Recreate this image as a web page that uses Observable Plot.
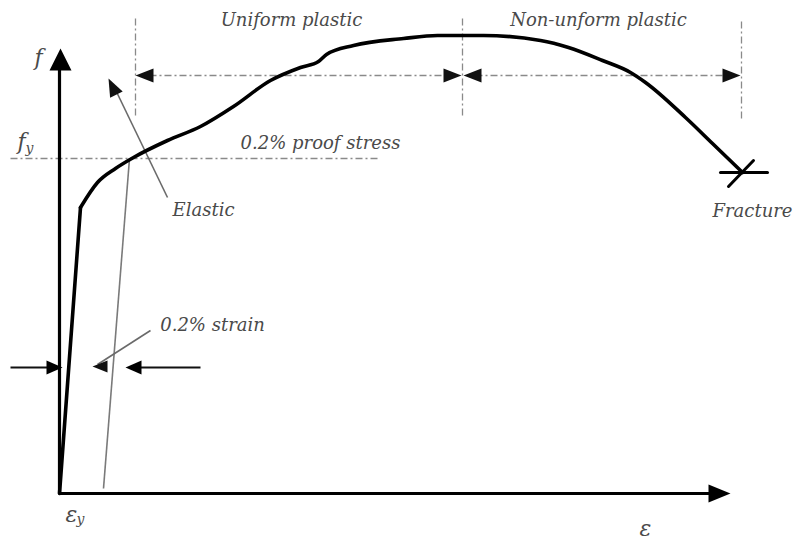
<!DOCTYPE html>
<html>
<head>
<meta charset="utf-8">
<script src="https://cdn.jsdelivr.net/npm/d3@7"></script>
<script src="https://cdn.jsdelivr.net/npm/@observablehq/plot@0.6"></script>
<style>
  html, body { margin: 0; padding: 0; background: #fff; }
</style>
</head>
<body>
<div id="chart"></div>
<script>
// Stress–strain curve (strain, stress) in diagram units
const elasticStrain = [0, 21];
const elasticStress = [0, 286];
const plasticStrain = [21, 38, 56, 74, 108, 141, 174, 211, 241, 259, 267, 294, 344, 378, 424, 481, 509, 543, 571, 586, 626, 653, 683];
const plasticStress = [286, 311, 325, 336, 353, 367, 387, 413, 426, 432, 439, 448, 455, 458, 458, 453, 446, 433, 421, 411, 376, 350, 321];

// Axes (solid black)
const axisLines = [
  {x1: 0, y1: 0, x2: 0, y2: 430},
  {x1: 0, y1: 0, x2: 655, y2: 0}
];

// Dashed reference lines
const dashedLines = [
  {x1: -49, y1: 335, x2: 321, y2: 335},   // f_y proof stress line
  {x1: 76, y1: 378, x2: 76, y2: 475},     // start of uniform plastic
  {x1: 403, y1: 378, x2: 403, y2: 478},   // ultimate
  {x1: 682, y1: 375, x2: 682, y2: 473},   // fracture
  {x1: 90, y1: 418, x2: 390, y2: 418},    // uniform plastic span
  {x1: 416, y1: 418, x2: 668, y2: 418}    // non-uniform plastic span
];

// 0.2% offset line (parallel to elastic line)
const offsetLine = [{x1: 44, y1: 5, x2: 70, y2: 335}];

// Leader lines from labels
const leaderLines = [
  {x1: 108, y1: 296, x2: 53, y2: 410},    // Elastic
  {x1: 91, y1: 163, x2: 38, y2: 129}      // 0.2% strain
];

// Strain-measuring arrows
const strainArrows = [
  {x1: -49, y1: 126, x2: -8, y2: 126},
  {x1: 141, y1: 126, x2: 80, y2: 126}
];

// Fracture mark
const fractureMark = [
  {x1: 661, y1: 321, x2: 708, y2: 321},
  {x1: 669, y1: 307, x2: 694, y2: 333}
];

// Arrowheads: tip position, pointing angle (deg, screen, 0 = right, 90 = down), length, half width, colour
const arrowHeads = [
  {x: 1, y: 445, angle: -90, len: 22, half: 11, color: "#000"},
  {x: 671, y: 0, angle: 0, len: 22, half: 9, color: "#000"},
  {x: 76, y: 418, angle: 180, len: 18, half: 7, color: "#111"},
  {x: 402, y: 418, angle: 0, len: 18, half: 7, color: "#111"},
  {x: 404, y: 418, angle: 180, len: 18, half: 7, color: "#111"},
  {x: 681, y: 418, angle: 0, len: 18, half: 7, color: "#111"},
  {x: 49, y: 415, angle: -116, len: 18, half: 7, color: "#111"},
  {x: 3, y: 126, angle: 0, len: 16, half: 7, color: "#000"},
  {x: 66, y: 126, angle: 180, len: 16, half: 7, color: "#000"},
  {x: 33, y: 127, angle: 180, len: 15, half: 6, color: "#111"}
];

// Text labels
const labelText = ["Uniform plastic", "Non-unform plastic", "0.2% proof stress", "Elastic", "Fracture", "0.2% strain"];
const labelX    = [232, 539, 261, 144, 693, 153];
const labelY    = [473, 473, 350, 283, 282, 168];

// Symbol labels (main letter + subscript)
const symText = ["f", "f", "ε", "ε"];
const symX    = [-21, -38, 12, 586];
const symY    = [436, 352, -21, -35];
const subText = ["y", "y"];
const subX    = [-30, 21];
const subY    = [345, -26];

function headSymbol(angle, len, half) {
  const a = angle * Math.PI / 180, c = Math.cos(a), s = Math.sin(a);
  const pt = (u, v) => [u * c - v * s, u * s + v * c];
  return {
    draw(ctx) {
      const p0 = pt(0, 0), p1 = pt(-len, -half), p2 = pt(-len, half);
      ctx.moveTo(p0[0], p0[1]);
      ctx.lineTo(p1[0], p1[1]);
      ctx.lineTo(p2[0], p2[1]);
      ctx.closePath();
    }
  };
}

const elastic = elasticStrain.map((x, i) => ({x, y: elasticStress[i]}));
const plastic = plasticStrain.map((x, i) => ({x, y: plasticStress[i]}));
const labels = labelText.map((t, i) => ({t, x: labelX[i], y: labelY[i]}));
const syms = symText.map((t, i) => ({t, x: symX[i], y: symY[i]}));
const subs = subText.map((t, i) => ({t, x: subX[i], y: subY[i]}));

const font = "DejaVu Serif";
const textGrey = "#4a4a4a";

const marks = [
  Plot.link(dashedLines, {x1: "x1", y1: "y1", x2: "x2", y2: "y2", stroke: "#8a8a8a", strokeWidth: 1.3, strokeDasharray: "7,3,2,3"}),
  Plot.link(offsetLine, {x1: "x1", y1: "y1", x2: "x2", y2: "y2", stroke: "#7a7a7a", strokeWidth: 1.6}),
  Plot.link(leaderLines, {x1: "x1", y1: "y1", x2: "x2", y2: "y2", stroke: "#6a6a6a", strokeWidth: 1.6}),
  Plot.link(strainArrows, {x1: "x1", y1: "y1", x2: "x2", y2: "y2", stroke: "#111", strokeWidth: 2.2}),
  Plot.link(axisLines, {x1: "x1", y1: "y1", x2: "x2", y2: "y2", stroke: "#000", strokeWidth: 3.2}),
  Plot.line(elastic, {x: "x", y: "y", stroke: "#000", strokeWidth: 3.6, strokeLinecap: "round"}),
  Plot.line(plastic, {x: "x", y: "y", stroke: "#000", strokeWidth: 3.6, strokeLinejoin: "round", strokeLinecap: "round", curve: "monotone-x"}),
  Plot.link(fractureMark, {x1: "x1", y1: "y1", x2: "x2", y2: "y2", stroke: "#000", strokeWidth: 3, strokeLinecap: "round"}),
  ...arrowHeads.map(h => Plot.dot([h], {x: "x", y: "y", r: 8, symbol: headSymbol(h.angle, h.len, h.half), fill: h.color, stroke: "none"})),
  Plot.text(labels, {x: "x", y: "y", text: "t", fontFamily: font, fontStyle: "italic", fontSize: 18, fill: textGrey}),
  Plot.text(syms, {x: "x", y: "y", text: "t", fontFamily: font, fontStyle: "italic", fontSize: 22, fill: textGrey}),
  Plot.text(subs, {x: "x", y: "y", text: "t", fontFamily: font, fontStyle: "italic", fontSize: 14, fill: textGrey})
];

const chart = Plot.plot({
  width: 805,
  height: 541,
  margin: 0,
  x: {domain: [-59, 746], axis: null},
  y: {domain: [-48, 493], axis: null},
  style: {background: "#fff", overflow: "visible"},
  marks
});
document.getElementById("chart").appendChild(chart);
</script>
</body>
</html>
